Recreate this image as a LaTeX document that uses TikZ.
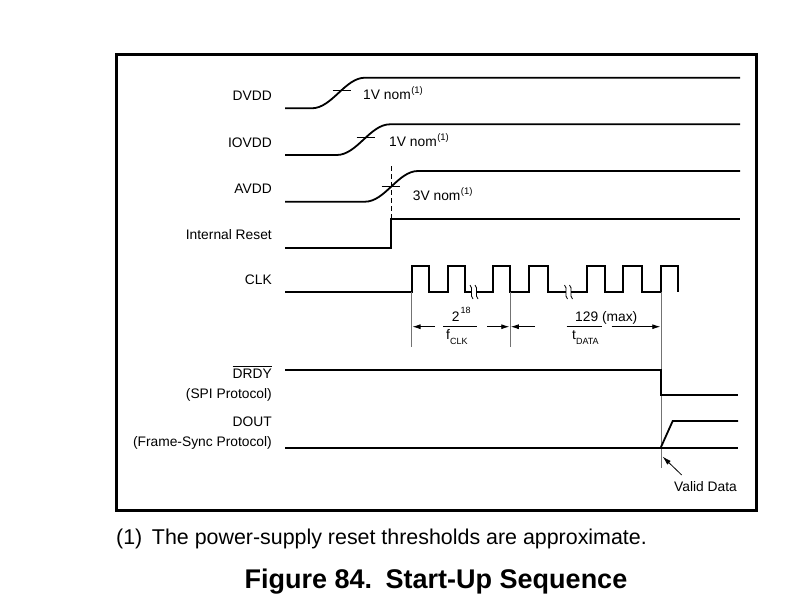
\documentclass[tikz,border=0pt]{standalone}
\usepackage{fontspec}
\setmainfont{Liberation Sans}
\usetikzlibrary{arrows.meta}
\newcommand{\supone}{\hspace{0.5pt}\raisebox{6pt}{\fontsize{9.5}{9.5}\selectfont(1)}}
\newcommand{\barred}[1]{\setbox0\hbox{#1}\rlap{\rule[\dimexpr\ht0+2.2pt\relax]{\wd0}{0.9pt}}\box0}
\begin{document}
\begin{tikzpicture}[x=1pt,y=-1pt,
  sig/.style={line width=1.8pt, line join=miter},
  thinl/.style={line width=0.9pt},
  refl/.style={line width=0.8pt, black!55},
  dim/.style={line width=0.8pt, -{Latex[length=8pt,width=5pt]}},
  lbl/.style={font=\fontsize{13.8}{15}\selectfont, anchor=base east, inner sep=0},
  txt/.style={font=\fontsize{13.8}{15}\selectfont, anchor=base west, inner sep=0},
  squig/.style={line width=0.8pt}]
\useasboundingbox (0,0) rectangle (800,600);
% frame
\draw[line width=3pt] (116,54) rectangle (756,510);

% labels
\node[lbl] (lDVDD) at (272,100.8) {DVDD};
\node[lbl] (lIOVDD) at (272,147.5) {IOVDD};
\node[lbl] (lAVDD) at (272,193.8) {AVDD};
\node[lbl] (lRST) at (272,239.8) {Internal Reset};
\node[lbl] (lCLK) at (272,284.8) {CLK};
\node[lbl] (lDRDY) at (272,378.8) {\barred{DRDY}};
\node[lbl] (lSPI) at (272,398.1) {(SPI Protocol)};
\node[lbl] (lDOUT) at (272,426.5) {DOUT};
\node[lbl] (lFS) at (272,446.5) {(Frame-Sync Protocol)};

% DVDD
\draw[sig] (285,108.3) -- (311.7,108.3) .. controls (332,108.3) and (345,77.7) .. (365,77.7) -- (740,77.7);
\draw[thinl] (332.7,90.7) -- (351,90.7);
\node[txt] (tDVDD) at (363,99.3) {1V nom\supone};
% IOVDD
\draw[sig] (285,155) -- (336.7,155) .. controls (357,155) and (370,124.3) .. (390,124.3) -- (740,124.3);
\draw[thinl] (356.7,137.3) -- (375,137.3);
\node[txt] (tIOVDD) at (389,146.7) {1V nom\supone};
% AVDD
\draw[sig] (285,201.7) -- (365,201.7) .. controls (385,201.7) and (398,171) .. (418,171) -- (740,171);
\draw[thinl] (381.7,186.7) -- (400,186.7);
\draw[thinl, dash pattern=on 5pt off 3pt] (391,166) -- (391,219);
\node[txt] (tAVDD) at (412.7,200) {3V nom\supone};
% Internal reset
\draw[sig] (285,248) -- (391,248) -- (391,219.3) -- (740,219.3);

% CLK
\draw[sig] (285,292.3) -- (411.7,292.3) -- (411.7,265.7) -- (429.3,265.7) -- (429.3,292.3)
  -- (447.7,292.3) -- (447.7,265.7) -- (465,265.7) -- (465,292.3) -- (471.5,292.3);
\draw[sig] (476.5,292.3) -- (492.7,292.3) -- (492.7,265.7) -- (510,265.7) -- (510,292.3)
  -- (529.3,292.3) -- (529.3,265.7) -- (548.3,265.7) -- (548.3,292.3) -- (566,292.3);
\draw[sig] (571,292.3) -- (586.7,292.3) -- (586.7,265.7) -- (605,265.7) -- (605,292.3)
  -- (623.3,292.3) -- (623.3,265.7) -- (641.7,265.7) -- (641.7,292.3) -- (661,292.3)
  -- (661,265.7) -- (678.3,265.7) -- (678.3,292.3);
% break marks
\foreach \bx in {471.5,476.5,566,571}{
  \draw[squig] (\bx-1.5,285) .. controls (\bx+2.5,288) and (\bx-2.5,296) .. (\bx+1.5,299);
}

% reference lines
\draw[refl] (411.7,292.3) -- (411.7,347);
\draw[refl] (510,292.3) -- (510,347);
\draw[refl] (661,292.3) -- (661,468);

% dimensions
\draw[dim] (435,326.7) -- (412.5,326.7);
\draw[dim] (487,326.7) -- (509.3,326.7);
\draw[thinl] (443,326.7) -- (476.7,326.7);
\node[txt] (n218) at (451.7,321.7) {2\hspace{1pt}\raisebox{8pt}{\fontsize{9}{9}\selectfont 18}};
\node[txt] (nfclk) at (446,339) {f\raisebox{-5pt}{\fontsize{9}{9}\selectfont CLK}};
\draw[dim] (535,326.7) -- (510.8,326.7);
\draw[dim] (611.7,326.7) -- (660.3,326.7);
\draw[thinl] (566.7,326.7) -- (601.7,326.7);
\node[txt] (n129) at (575,321.7) {129 (max)};
\node[txt] (ntdata) at (572,339) {t\raisebox{-5pt}{\fontsize{9}{9}\selectfont DATA}};

% DRDY
\draw[sig] (285,370) -- (660.7,370) -- (660.7,395) -- (738,395);
% DOUT
\draw[sig] (285,447.7) -- (738,447.7);
\draw[sig] (660.7,447.7) -- (672.7,421) -- (738,421);
% valid data
\coordinate (vtip) at (662.5,456.5);
\coordinate (vtail) at (681.7,475);
\draw[line width=0.8pt, -{Latex[length=9pt,width=5pt]}] (vtail) -- (vtip);
\node[txt] (nvalid) at (674,491.7) {Valid Data};

% footnote and caption
\node[anchor=base west, inner sep=0, font=\fontsize{21.4}{23}\selectfont] (foot) at (116,544) {(1)\hspace{0.45em}The power-supply reset thresholds are approximate.};
\node[anchor=base, inner sep=0, font=\fontsize{27}{29}\selectfont\bfseries] (title) at (436,588) {Figure 84.\hspace{0.5em}Start-Up Sequence};
\end{tikzpicture}
\end{document}
